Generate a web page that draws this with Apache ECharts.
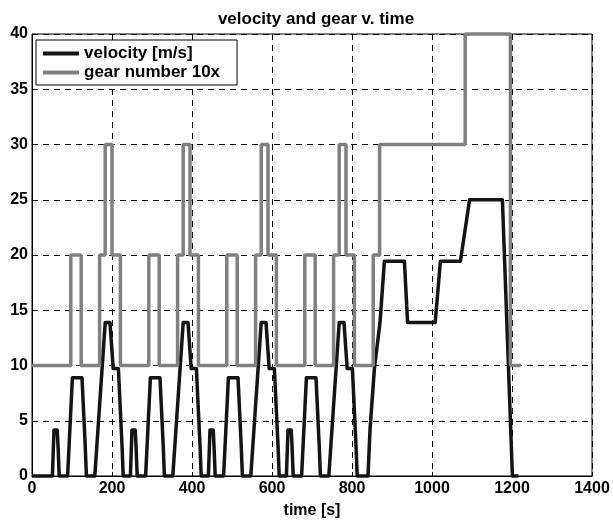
<!DOCTYPE html>
<html>
<head>
<meta charset="utf-8">
<script src="https://cdn.jsdelivr.net/npm/echarts@6/dist/echarts.min.js"></script>
<style>
html,body{margin:0;padding:0;background:#fff;}
#chart{width:613px;height:524px;}
</style>
</head>
<body>
<div id="chart"></div>
<script>
// velocity profile [m/s]: 4 x ECE-15 urban cycles + extra-urban part
var velTime = [0, 51, 55, 63, 65, 68, 89, 101, 125, 133, 136, 157, 183, 195, 203, 216, 225, 228,
  246, 250, 258, 260, 263, 284, 296, 320, 328, 331, 352, 378, 390, 398, 411, 420, 423,
  441, 445, 453, 455, 458, 479, 491, 515, 523, 526, 547, 573, 585, 593, 606, 615, 618,
  636, 640, 648, 650, 653, 674, 686, 710, 718, 721, 742, 768, 780, 788, 801, 810, 813,
  840, 845, 847, 856, 858, 870, 872, 881, 931, 939, 1008, 1021, 1071, 1094, 1176, 1201, 1216];
var velValue = [0, 0, 4.17, 4.17, 2.78, 0, 0, 8.89, 8.89, 2.78, 0, 0, 13.89, 13.89, 9.72, 9.72, 2.78, 0,
  0, 4.17, 4.17, 2.78, 0, 0, 8.89, 8.89, 2.78, 0, 0, 13.89, 13.89, 9.72, 9.72, 2.78, 0,
  0, 4.17, 4.17, 2.78, 0, 0, 8.89, 8.89, 2.78, 0, 0, 13.89, 13.89, 9.72, 9.72, 2.78, 0,
  0, 4.17, 4.17, 2.78, 0, 0, 8.89, 8.89, 2.78, 0, 0, 13.89, 13.89, 9.72, 9.72, 2.78, 0,
  0, 4.17, 4.17, 9.72, 9.72, 13.89, 13.89, 19.44, 19.44, 13.89, 13.89, 19.44, 19.44, 25.0, 25.0, 0, 0];

// gear number x10 (value holds from each time until the next)
var gearTime = [0, 97, 123, 169, 183, 200, 221,
  292, 318, 364, 378, 395, 416,
  487, 513, 559, 573, 590, 611,
  682, 708, 754, 768, 785, 806,
  853, 869, 1083, 1196, 1222];
var gearValue = [10, 20, 10, 20, 30, 20, 10,
  20, 10, 20, 30, 20, 10,
  20, 10, 20, 30, 20, 10,
  20, 10, 20, 30, 20, 10,
  20, 30, 40, 10, 10];

var seriesNames = ['velocity [m/s]', 'gear number 10x'];
var titleText = 'velocity and gear v. time';
var xAxisName = 'time [s]';

function zip(a, b) { var r = []; for (var i = 0; i < a.length; i++) r.push([a[i], b[i]]); return r; }

var FONT = '"Liberation Sans", Arial, sans-serif';
var chart = echarts.init(document.getElementById('chart'), null, {renderer: 'canvas'});
chart.setOption({
  animation: false,
  backgroundColor: '#fff',
  title: {
    text: titleText, left: 311, top: 6, textAlign: 'center',
    textStyle: {fontFamily: FONT, fontWeight: 'bold', fontSize: 17, color: '#000'}
  },
  legend: {
    orient: 'vertical', left: 36, top: 40,
    backgroundColor: '#fff', borderColor: '#000', borderWidth: 1,
    padding: [5, 17, 4, 7], itemGap: 2,
    itemWidth: 36, itemHeight: 4, icon: 'rect',
    textStyle: {fontFamily: FONT, fontWeight: 'bold', fontSize: 17, color: '#000'},
    data: seriesNames
  },
  grid: {left: 32, right: 21, top: 34, bottom: 47, show: true, borderColor: '#000', borderWidth: 1, backgroundColor: '#fff'},
  xAxis: {
    type: 'value', min: 0, max: 1400, interval: 200,
    name: xAxisName, nameLocation: 'middle', nameGap: 27,
    nameTextStyle: {fontFamily: FONT, fontWeight: 'bold', fontSize: 16, color: '#000'},
    axisLine: {show: true, lineStyle: {color: '#000', width: 1}},
    axisTick: {show: true, inside: true, length: 4, lineStyle: {color: '#000'}},
    axisLabel: {fontFamily: FONT, fontWeight: 'bold', fontSize: 16, color: '#000', margin: 5,
      formatter: function (v) { return String(v); }},
    splitLine: {show: true, lineStyle: {color: '#000', type: [6, 5], width: 1}}
  },
  yAxis: {
    type: 'value', min: 0, max: 40, interval: 5,
    axisLine: {show: true, lineStyle: {color: '#000', width: 1}},
    axisTick: {show: true, inside: true, length: 4, lineStyle: {color: '#000'}},
    axisLabel: {fontFamily: FONT, fontWeight: 'bold', fontSize: 16, color: '#000', margin: 4},
    splitLine: {show: true, lineStyle: {color: '#000', type: [6, 5], width: 1}}
  },
  series: [
    {
      name: seriesNames[0], type: 'line', showSymbol: false, symbol: 'none',
      data: zip(velTime, velValue),
      lineStyle: {color: '#141414', width: 3.5, join: 'round'},
      itemStyle: {color: '#141414'}, clip: false
    },
    {
      name: seriesNames[1], type: 'line', showSymbol: false, symbol: 'none', step: 'end',
      data: zip(gearTime, gearValue),
      lineStyle: {color: '#808080', width: 3.5},
      itemStyle: {color: '#808080'}, clip: false
    }
  ]
});
</script>
</body>
</html>
